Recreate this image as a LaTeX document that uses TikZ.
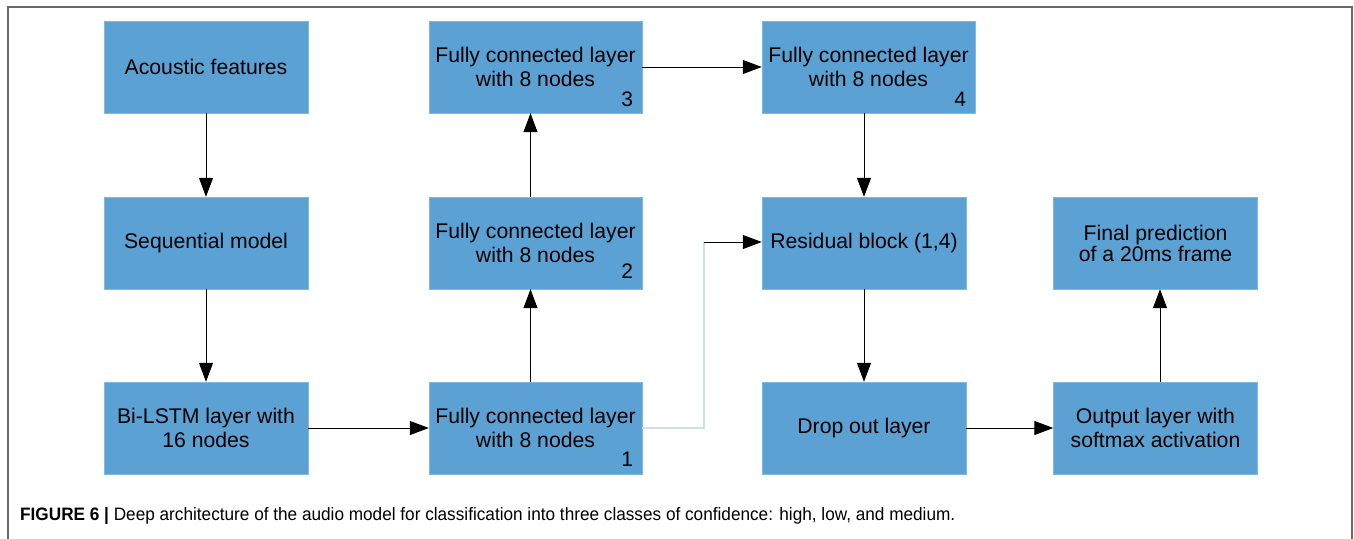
\documentclass[tikz,border=0pt]{standalone}
\usepackage{fontspec}
\setmainfont{Liberation Sans}
\usepackage{tikz}
\usetikzlibrary{arrows.meta,positioning}
\definecolor{boxblue}{RGB}{91,161,211}
\definecolor{boxedge}{RGB}{125,185,228}
\definecolor{skipblue}{RGB}{205,222,240}
\definecolor{framegray}{RGB}{105,105,105}
\tikzstyle{layer}=[draw=boxedge,fill=boxblue,minimum width=204pt,minimum height=92pt,inner sep=0pt,align=center,font=\fontsize{21.2}{24.2}\selectfont]
\tikzstyle{wide}=[minimum width=213pt]
\tikzstyle{num}=[inner sep=0pt,font=\fontsize{21}{21}\selectfont]
\tikzstyle{flow}=[-{Triangle[length=19pt,width=14pt]},line width=1pt]

\begin{document}
\begin{tikzpicture}[x=1pt,y=-1pt]
\useasboundingbox (0,0) rectangle (1354,538);
\draw[framegray,line width=1.4pt] (8,545) -- (8,7) -- (1352,7) -- (1352,545);
% first column
\draw (206, 67) node [layer] (acoustic) {Acoustic features};
\draw (206, 243) node [layer] (seq) {Sequential model};
\draw (206, 428) node [layer] (lstm) {Bi-LSTM layer with\\16 nodes};
% fully connected layers
\draw (535.5, 428) node [layer,wide] (fc1) {Fully connected layer\\with 8 nodes};
\draw (535.5, 243) node [layer,wide] (fc2) {Fully connected layer\\with 8 nodes};
\draw (535.5, 67) node [layer,wide] (fc3) {Fully connected layer\\with 8 nodes};
\draw (868.5, 67) node [layer,wide] (fc4) {Fully connected layer\\with 8 nodes};
\node[num,anchor=base east] at ([xshift=-9pt,yshift=8pt]fc1.south east) {1};
\node[num,anchor=base east] at ([xshift=-9pt,yshift=11pt]fc2.south east) {2};
\node[num,anchor=base east] at ([xshift=-9pt,yshift=7pt]fc3.south east) {3};
\node[num,anchor=base east] at ([xshift=-9pt,yshift=7pt]fc4.south east) {4};
% residual part
\draw (864, 243) node [layer] (res) {Residual block (1,4)};
\draw (864, 428) node [layer] (drop) {Drop out layer};
\draw (1155.5, 428) node [layer] (out) {Output layer with\\softmax activation};
\draw (1155.5, 243) node [layer,font=\fontsize{21.2}{21}\selectfont] (final) {Final prediction\\of a 20ms frame};
% connectors
\draw[flow] (acoustic) -- (seq);
\draw[flow] (seq) -- (lstm);
\draw[flow] (lstm) -- (fc1);
\draw[flow] ([xshift=-5pt]fc1.north) -- ([xshift=-5pt]fc2.south);
\draw[flow] ([xshift=-5pt]fc2.north) -- ([xshift=-5pt]fc3.south);
\draw[flow] (fc3) -- (fc4);
\draw[flow] ([xshift=-4.5pt]fc4.south) -- (res);
\draw[flow] (res) -- (drop);
\draw[flow] (drop) -- (out);
\draw[flow] ([xshift=4.5pt]out.north) -- ([xshift=4.5pt]final.south);
\coordinate (bend) at (704, 242);
\draw[skipblue,line width=1.5pt] (fc1.east) -- (bend |- fc1.east) -- (bend);
\draw[flow] (bend) -- (res.west |- bend);
% caption
\node[anchor=base west,inner sep=0pt,font=\fontsize{18}{18}\selectfont,xscale=0.955] (caption) at (20,520)
  {\textbf{FIGURE 6 |} Deep architecture of the audio model for classification into three classes of confidence: high, low, and medium.};
\end{tikzpicture}
\end{document}
